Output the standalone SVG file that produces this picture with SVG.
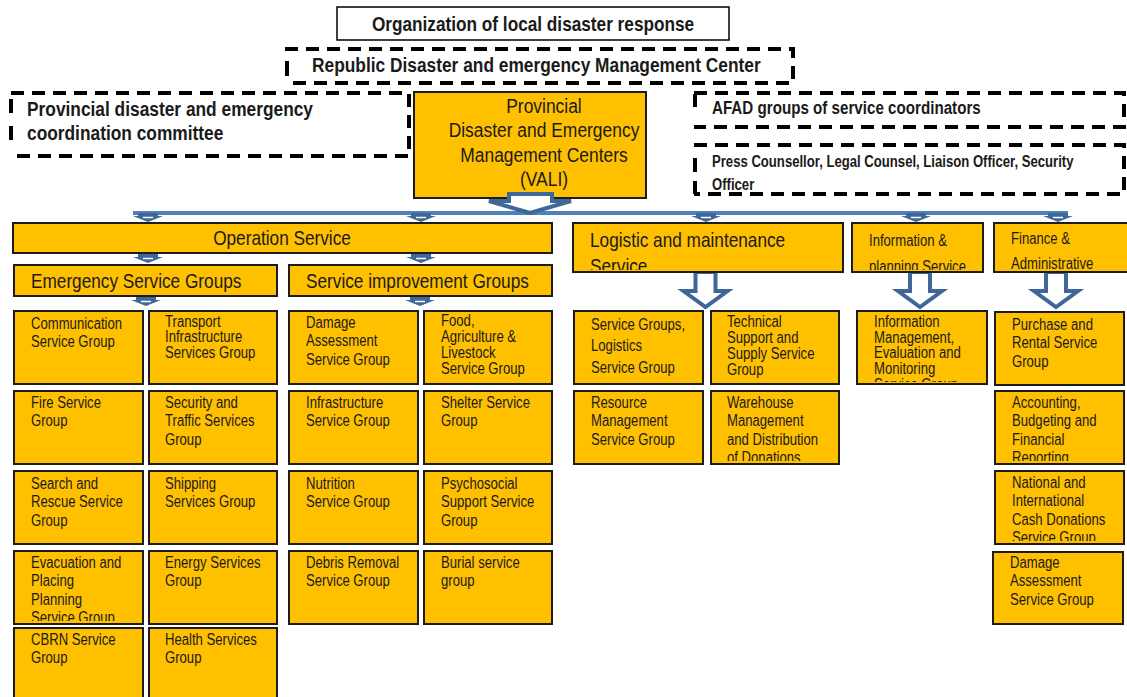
<svg xmlns="http://www.w3.org/2000/svg" width="1127" height="697" viewBox="0 0 1127 697">
  <style>
    .box { fill: #FFC000; stroke: #1c1c1c; stroke-width: 2; }
    .frame { fill: #fff; stroke: #000; stroke-width: 1.5; }
    .dash { fill: none; stroke: #000; stroke-width: 4; stroke-dasharray: 13 8; }
    .tick { stroke: #000; stroke-width: 4; }
    .t { font-family: "Liberation Sans", Arial, sans-serif; font-size: 16px; fill: #1a1a1a; }
    .h { font-size: 21px; }
    .b { font-weight: bold; }
    .mid { text-anchor: middle; }
    .arr { fill: #fff; stroke: #3F6797; stroke-width: 4; stroke-linejoin: miter; }
    .nub { fill: #3F6797; }
    .nubline { stroke: #fff; stroke-width: 1.5; }
    .bar { stroke: #4F81BD; stroke-width: 4; }
  </style>
  <defs>
    <!-- small connector tab under the bus line -->
    <g id="nub">
      <path class="nub" d="M-10,0 H10 V3 H15 L0,9 L-15,3 H-10 Z"/>
      <line class="nubline" x1="-5" y1="4.5" x2="5" y2="4.5"/>
    </g>
    <!-- outlined block arrow pointing down -->
    <path id="down" class="arr" d="M-10,0 H10 V19 H22 L0,35 L-22,19 H-10 Z"/>
    <clipPath id="cEvac"><rect x="14" y="551" width="129" height="70"/></clipPath>
    <clipPath id="cWare"><rect x="711" y="391" width="128" height="70"/></clipPath>
    <clipPath id="cInfo"><rect x="857" y="311" width="130" height="71"/></clipPath>
    <clipPath id="cAcc"><rect x="995" y="391" width="129" height="70"/></clipPath>
    <clipPath id="cNat"><rect x="995" y="471" width="129" height="70"/></clipPath>
    <clipPath id="cLog"><rect x="573" y="223" width="270" height="47"/></clipPath>
    <clipPath id="cPlan"><rect x="852" y="223" width="131" height="47"/></clipPath>
  </defs>

  <!-- header -->
  <g id="title">
    <rect class="frame" x="337" y="7" width="392" height="33"/>
    <text class="t h b mid" transform="translate(533,31) scale(0.82 1)">Organization of local disaster response</text>
  </g>
  <g id="republic">
    <path class="dash" d="M285,49 H793 V83 H285"/>
    <line class="tick" x1="287" y1="61" x2="287" y2="76"/>
    <text class="t h b" transform="translate(312,72) scale(0.825 1)">Republic Disaster and emergency Management Center</text>
  </g>
  <g id="committee">
    <path class="dash" d="M11,93 H409 V156 H11"/>
    <line class="tick" x1="11" y1="99" x2="11" y2="113"/>
    <line class="tick" x1="11" y1="126" x2="11" y2="140"/>
    <text class="t h b" transform="translate(27,116) scale(0.825 1)"><tspan x="0">Provincial disaster and emergency</tspan><tspan x="0" dy="24">coordination committee</tspan></text>
  </g>
  <g id="vali">
    <rect class="box" x="414" y="92" width="232" height="106"/>
    <text class="t h mid" transform="translate(544,113) scale(0.83 1)"><tspan x="0">Provincial</tspan><tspan x="0" dy="24.5">Disaster and Emergency</tspan><tspan x="0" dy="24.5">Management Centers</tspan><tspan x="0" dy="24.5">(VALI)</tspan></text>
  </g>
  <g id="afad">
    <path class="dash" d="M694,93 H1124 V127 H694"/>
    <line class="tick" x1="695" y1="94" x2="695" y2="107"/>
    <text class="t b" style="font-size:18.5px" transform="translate(712,114) scale(0.82 1)">AFAD groups of service coordinators</text>
  </g>
  <g id="press">
    <path class="dash" d="M694,145 H1124 V194 H694"/>
    <line class="tick" x1="695" y1="158" x2="695" y2="172"/>
    <line class="tick" x1="695" y1="181" x2="695" y2="194"/>
    <text class="t b" transform="translate(712,167) scale(0.82 1)"><tspan x="0">Press Counsellor, Legal Counsel, Liaison Officer, Security</tspan><tspan x="0" dy="23">Officer</tspan></text>
  </g>

  <!-- connectors -->
  <g id="connectors">
    <line class="bar" x1="133" y1="213" x2="1068" y2="213"/>
    <path class="arr" d="M509,194 H552 V201 H571 L530,213 L489,201 H509 Z"/>
    <use href="#nub" x="148" y="213"/>
    <use href="#nub" x="421" y="213"/>
    <use href="#nub" x="706" y="213"/>
    <use href="#nub" x="916" y="213"/>
    <use href="#nub" x="1058" y="213"/>
    <use href="#nub" x="148" y="254"/>
    <use href="#nub" x="421" y="254"/>
    <use href="#nub" x="146" y="297"/>
    <use href="#nub" x="420" y="297"/>
    <use href="#down" x="705.5" y="272"/>
    <use href="#down" x="920" y="272"/>
    <use href="#down" x="1056" y="272"/>
  </g>

  <!-- second level -->
  <g id="operation">
    <rect class="box" x="13" y="223" width="539" height="30"/>
    <text class="t h mid" transform="translate(282,245) scale(0.82 1)">Operation Service</text>
  </g>
  <g id="emergency">
    <rect class="box" x="14" y="265" width="263" height="31"/>
    <text class="t h" transform="translate(31,288) scale(0.82 1)">Emergency Service Groups</text>
  </g>
  <g id="improvement">
    <rect class="box" x="289" y="265" width="263" height="31"/>
    <text class="t h" transform="translate(306,288) scale(0.82 1)">Service improvement Groups</text>
  </g>
  <g id="logistic">
    <rect class="box" x="573" y="223" width="270" height="49"/>
    <g clip-path="url(#cLog)">
      <text class="t h" transform="translate(590,247) scale(0.82 1)"><tspan x="0">Logistic and maintenance</tspan><tspan x="0" dy="26">Service</tspan></text>
    </g>
  </g>
  <g id="planning">
    <rect class="box" x="852" y="223" width="131" height="49"/>
    <g clip-path="url(#cPlan)">
      <text class="t" transform="translate(869,246) scale(0.82 1)"><tspan x="0">Information &amp;</tspan><tspan x="0" dy="26">planning Service</tspan></text>
    </g>
  </g>
  <g id="finance">
    <rect class="box" x="994" y="223" width="140" height="49"/>
    <text class="t" transform="translate(1011,244) scale(0.82 1)"><tspan x="0">Finance &amp;</tspan><tspan x="0" dy="25">Administrative</tspan></text>
  </g>

  <!-- emergency service groups -->
  <g id="communication">
    <rect class="box" x="14" y="311" width="129" height="73"/>
    <text class="t" transform="translate(31,329) scale(0.82 1)"><tspan x="0">Communication</tspan><tspan x="0" dy="18.5">Service Group</tspan></text>
  </g>
  <g id="transport">
    <rect class="box" x="149" y="311" width="128" height="73"/>
    <text class="t" transform="translate(165,327) scale(0.82 1)"><tspan x="0">Transport</tspan><tspan x="0" dy="15.5">Infrastructure</tspan><tspan x="0" dy="15.5">Services Group</tspan></text>
  </g>
  <g id="fire">
    <rect class="box" x="14" y="391" width="129" height="73"/>
    <text class="t" transform="translate(31,408) scale(0.82 1)"><tspan x="0">Fire Service</tspan><tspan x="0" dy="18.5">Group</tspan></text>
  </g>
  <g id="security">
    <rect class="box" x="149" y="391" width="128" height="73"/>
    <text class="t" transform="translate(165,408) scale(0.82 1)"><tspan x="0">Security and</tspan><tspan x="0" dy="18.5">Traffic Services</tspan><tspan x="0" dy="18.5">Group</tspan></text>
  </g>
  <g id="search">
    <rect class="box" x="14" y="471" width="129" height="73"/>
    <text class="t" transform="translate(31,489) scale(0.82 1)"><tspan x="0">Search and</tspan><tspan x="0" dy="18.5">Rescue Service</tspan><tspan x="0" dy="18.5">Group</tspan></text>
  </g>
  <g id="shipping">
    <rect class="box" x="149" y="471" width="128" height="73"/>
    <text class="t" transform="translate(165,489) scale(0.82 1)"><tspan x="0">Shipping</tspan><tspan x="0" dy="18.5">Services Group</tspan></text>
  </g>
  <g id="evacuation">
    <rect class="box" x="14" y="551" width="129" height="73"/>
    <g clip-path="url(#cEvac)">
      <text class="t" transform="translate(31,568) scale(0.82 1)"><tspan x="0">Evacuation and</tspan><tspan x="0" dy="18.5">Placing</tspan><tspan x="0" dy="18.5">Planning</tspan><tspan x="0" dy="18.5">Service Group</tspan></text>
    </g>
  </g>
  <g id="energy">
    <rect class="box" x="149" y="551" width="128" height="73"/>
    <text class="t" transform="translate(165,568) scale(0.82 1)"><tspan x="0">Energy Services</tspan><tspan x="0" dy="18.5">Group</tspan></text>
  </g>
  <g id="cbrn">
    <rect class="box" x="14" y="628" width="129" height="80"/>
    <text class="t" transform="translate(31,645) scale(0.82 1)"><tspan x="0">CBRN Service</tspan><tspan x="0" dy="18.5">Group</tspan></text>
  </g>
  <g id="health">
    <rect class="box" x="149" y="628" width="128" height="80"/>
    <text class="t" transform="translate(165,645) scale(0.82 1)"><tspan x="0">Health Services</tspan><tspan x="0" dy="18.5">Group</tspan></text>
  </g>

  <!-- service improvement groups -->
  <g id="damage1">
    <rect class="box" x="289" y="311" width="129" height="73"/>
    <text class="t" transform="translate(306,328) scale(0.82 1)"><tspan x="0">Damage</tspan><tspan x="0" dy="18.5">Assessment</tspan><tspan x="0" dy="18.5">Service Group</tspan></text>
  </g>
  <g id="food">
    <rect class="box" x="424" y="311" width="128" height="73"/>
    <text class="t" transform="translate(441,326) scale(0.82 1)"><tspan x="0">Food,</tspan><tspan x="0" dy="16">Agriculture &amp;</tspan><tspan x="0" dy="16">Livestock</tspan><tspan x="0" dy="16">Service Group</tspan></text>
  </g>
  <g id="infrastructure">
    <rect class="box" x="289" y="391" width="129" height="73"/>
    <text class="t" transform="translate(306,408) scale(0.82 1)"><tspan x="0">Infrastructure</tspan><tspan x="0" dy="18.5">Service Group</tspan></text>
  </g>
  <g id="shelter">
    <rect class="box" x="424" y="391" width="128" height="73"/>
    <text class="t" transform="translate(441,408) scale(0.82 1)"><tspan x="0">Shelter Service</tspan><tspan x="0" dy="18.5">Group</tspan></text>
  </g>
  <g id="nutrition">
    <rect class="box" x="289" y="471" width="129" height="73"/>
    <text class="t" transform="translate(306,489) scale(0.82 1)"><tspan x="0">Nutrition</tspan><tspan x="0" dy="18.5">Service Group</tspan></text>
  </g>
  <g id="psychosocial">
    <rect class="box" x="424" y="471" width="128" height="73"/>
    <text class="t" transform="translate(441,489) scale(0.82 1)"><tspan x="0">Psychosocial</tspan><tspan x="0" dy="18.5">Support Service</tspan><tspan x="0" dy="18.5">Group</tspan></text>
  </g>
  <g id="debris">
    <rect class="box" x="289" y="551" width="129" height="73"/>
    <text class="t" transform="translate(306,568) scale(0.82 1)"><tspan x="0">Debris Removal</tspan><tspan x="0" dy="18.5">Service Group</tspan></text>
  </g>
  <g id="burial">
    <rect class="box" x="424" y="551" width="128" height="73"/>
    <text class="t" transform="translate(441,568) scale(0.82 1)"><tspan x="0">Burial service</tspan><tspan x="0" dy="18.5">group</tspan></text>
  </g>

  <!-- logistic groups -->
  <g id="logistics">
    <rect class="box" x="574" y="311" width="129" height="73"/>
    <text class="t" transform="translate(591,330) scale(0.82 1)"><tspan x="0">Service Groups,</tspan><tspan x="0" dy="21.5">Logistics</tspan><tspan x="0" dy="21.5">Service Group</tspan></text>
  </g>
  <g id="technical">
    <rect class="box" x="711" y="311" width="128" height="73"/>
    <text class="t" transform="translate(727,327) scale(0.82 1)"><tspan x="0">Technical</tspan><tspan x="0" dy="16">Support and</tspan><tspan x="0" dy="16">Supply Service</tspan><tspan x="0" dy="16">Group</tspan></text>
  </g>
  <g id="resource">
    <rect class="box" x="574" y="391" width="129" height="73"/>
    <text class="t" transform="translate(591,408) scale(0.82 1)"><tspan x="0">Resource</tspan><tspan x="0" dy="18.5">Management</tspan><tspan x="0" dy="18.5">Service Group</tspan></text>
  </g>
  <g id="warehouse">
    <rect class="box" x="711" y="391" width="128" height="73"/>
    <g clip-path="url(#cWare)">
      <text class="t" transform="translate(727,408) scale(0.82 1)"><tspan x="0">Warehouse</tspan><tspan x="0" dy="18.5">Management</tspan><tspan x="0" dy="18.5">and Distribution</tspan><tspan x="0" dy="18.5">of Donations</tspan></text>
    </g>
  </g>

  <!-- information groups -->
  <g id="infomgmt">
    <rect class="box" x="857" y="311" width="130" height="73"/>
    <g clip-path="url(#cInfo)">
      <text class="t" transform="translate(874,327) scale(0.82 1)"><tspan x="0">Information</tspan><tspan x="0" dy="15.7">Management,</tspan><tspan x="0" dy="15.7">Evaluation and</tspan><tspan x="0" dy="15.7">Monitoring</tspan><tspan x="0" dy="15.7">Service Group</tspan></text>
    </g>
  </g>

  <!-- finance groups -->
  <g id="purchase">
    <rect class="box" x="995" y="312" width="129" height="73"/>
    <text class="t" transform="translate(1012,330) scale(0.82 1)"><tspan x="0">Purchase and</tspan><tspan x="0" dy="18.5">Rental Service</tspan><tspan x="0" dy="18.5">Group</tspan></text>
  </g>
  <g id="accounting">
    <rect class="box" x="995" y="391" width="129" height="73"/>
    <g clip-path="url(#cAcc)">
      <text class="t" transform="translate(1012,408) scale(0.82 1)"><tspan x="0">Accounting,</tspan><tspan x="0" dy="18.5">Budgeting and</tspan><tspan x="0" dy="18.5">Financial</tspan><tspan x="0" dy="18.5">Reporting</tspan></text>
    </g>
  </g>
  <g id="donations">
    <rect class="box" x="995" y="471" width="129" height="73"/>
    <g clip-path="url(#cNat)">
      <text class="t" transform="translate(1012,488) scale(0.82 1)"><tspan x="0">National and</tspan><tspan x="0" dy="18.5">International</tspan><tspan x="0" dy="18.5">Cash Donations</tspan><tspan x="0" dy="18.5">Service Group</tspan></text>
    </g>
  </g>
  <g id="damage2">
    <rect class="box" x="993" y="552" width="130" height="72"/>
    <text class="t" transform="translate(1010,568) scale(0.82 1)"><tspan x="0">Damage</tspan><tspan x="0" dy="18.5">Assessment</tspan><tspan x="0" dy="18.5">Service Group</tspan></text>
  </g>
</svg>
